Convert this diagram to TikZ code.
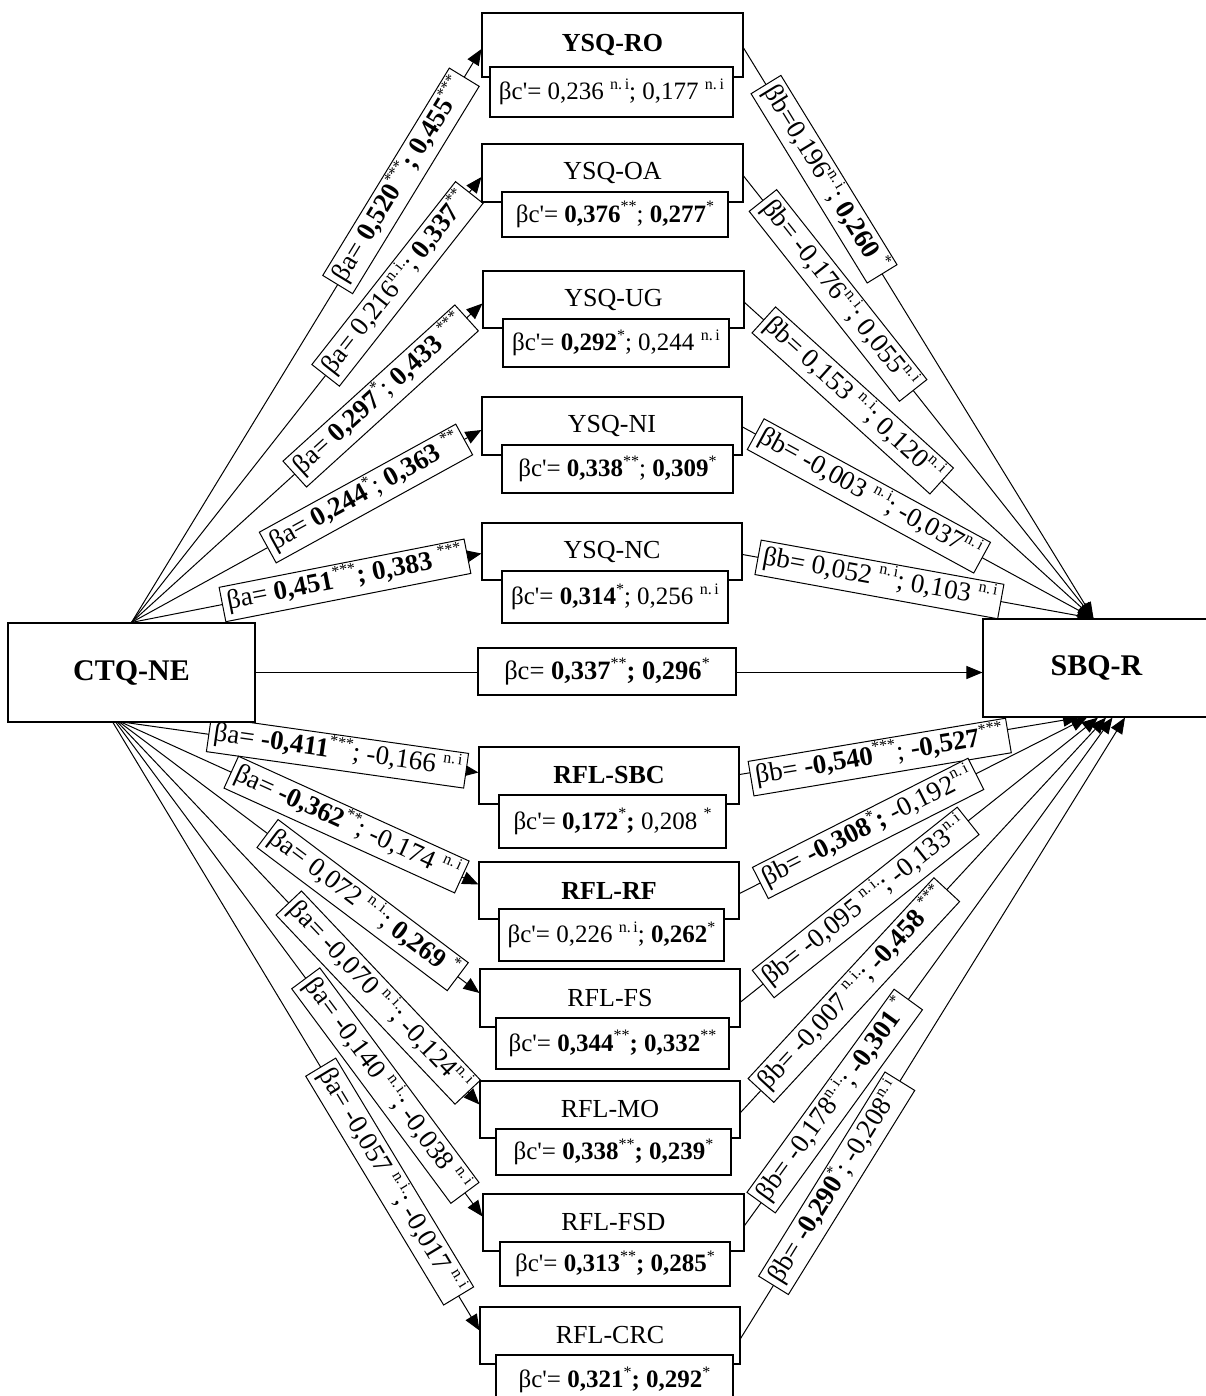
\documentclass[tikz,border=0pt]{standalone}
\usepackage{fontspec}
\setmainfont{Liberation Serif}
\usetikzlibrary{arrows.meta,backgrounds}
\newcommand{\sg}[1]{\raisebox{0.42em}{\fontsize{16}{16}\selectfont #1}}
\newcommand{\nsi}{\sg{n.\,i}}
\newcommand{\nsii}{\sg{n.\,i.}}
\newcommand{\q}{\textquotesingle}
\begin{document}
\begin{tikzpicture}[x=1pt,y=-1pt,
  box/.style={draw,line width=1.1pt,fill=white,inner sep=0pt,font=\fontsize{25}{30}\selectfont},
  ttl/.style={box,font=\fontsize{26}{30}\selectfont},
  ttlb/.style={box,font=\fontsize{26}{30}\selectfont\bfseries},
  mainbox/.style={box,font=\fontsize{30}{36}\selectfont\bfseries},
  lbl/.style={draw,line width=1pt,fill=white,sloped,inner xsep=5pt,inner ysep=0pt,text height=19pt,text depth=7pt,minimum height=35pt,font=\fontsize{27}{30}\selectfont},
  arr/.style={line width=1pt,-{Triangle[length=16pt,width=13pt]}},
]
\useasboundingbox (0,0) rectangle (1206,1396);

% main nodes
\node[mainbox,minimum width=247pt,minimum height=99pt] (ctq) at (131.5,672.5) {CTQ-NE};
\node[mainbox,minimum width=227pt,minimum height=98pt] (sbq) at (1096.5,668) {SBQ-R};
\node[box,minimum width=258pt,minimum height=47pt,font=\fontsize{26.5}{30}\selectfont] (bc) at (607,671.5) {βc= \textbf{0,337}\sg{**}\textbf{; 0,296}\sg{*}};

% upper mediators
\node[ttlb,minimum width=261pt,minimum height=64pt] (ro) at (612.5,45) {YSQ-RO};
\node[box,minimum width=243pt,minimum height=50pt] (roc) at (611.5,92) {βc\q= 0,236 \nsi; 0,177 \nsi};
\node[ttl,minimum width=261pt,minimum height=58pt] (oa) at (612.5,173) {YSQ-OA};
\node[box,minimum width=226pt,minimum height=45pt] (oac) at (615,214.5) {βc\q= \textbf{0,376}\sg{**}; \textbf{0,277}\sg{*}};
\node[ttl,minimum width=261pt,minimum height=57pt] (ug) at (613.5,299.5) {YSQ-UG};
\node[box,minimum width=226pt,minimum height=48pt] (ugc) at (616,343) {βc\q= \textbf{0,292}\sg{*}; 0,244 \nsi};
\node[ttl,minimum width=260pt,minimum height=58pt] (ni) at (612,426) {YSQ-NI};
\node[box,minimum width=231pt,minimum height=48pt] (nic) at (617.5,469) {βc\q= \textbf{0,338}\sg{**}; \textbf{0,309}\sg{*}};
\node[ttl,minimum width=260pt,minimum height=57pt] (nc) at (612,551.5) {YSQ-NC};
\node[box,minimum width=226pt,minimum height=52pt] (ncc) at (615,597) {βc\q= \textbf{0,314}\sg{*}; 0,256 \nsi};

% lower mediators
\node[ttlb,minimum width=260pt,minimum height=57pt] (sbc) at (609,775.5) {RFL-SBC};
\node[box,minimum width=227pt,minimum height=53pt] (sbcc) at (612.5,821.5) {βc\q= \textbf{0,172}\sg{*}\textbf{;} 0,208 \sg{*}};
\node[ttlb,minimum width=260pt,minimum height=57pt] (rf) at (609,890.5) {RFL-RF};
\node[box,minimum width=225pt,minimum height=52pt] (rfc) at (611.5,935) {βc\q= 0,226 \nsi; \textbf{0,262}\sg{*}};
\node[ttl,minimum width=260pt,minimum height=58pt] (fs) at (610,998) {RFL-FS};
\node[box,minimum width=233pt,minimum height=51pt] (fsc) at (612.5,1043.5) {βc\q= \textbf{0,344}\sg{**}\textbf{; 0,332}\sg{**}};
\node[ttl,minimum width=260pt,minimum height=57pt] (mo) at (610,1109.5) {RFL-MO};
\node[box,minimum width=235pt,minimum height=46pt] (moc) at (613.5,1152) {βc\q= \textbf{0,338}\sg{**}\textbf{; 0,239}\sg{*}};
\node[ttl,minimum width=261pt,minimum height=57pt] (fsd) at (613.5,1222.5) {RFL-FSD};
\node[box,minimum width=230pt,minimum height=44pt] (fsdc) at (615,1264) {βc\q= \textbf{0,313}\sg{**}\textbf{; 0,285}\sg{*}};
\node[ttl,minimum width=260pt,minimum height=57pt] (crc) at (610,1335.5) {RFL-CRC};
\node[box,minimum width=237pt,minimum height=50pt] (crcc) at (614.5,1380) {βc\q= \textbf{0,321}\sg{*}\textbf{; 0,292}\sg{*}};

% end points
\coordinate (uro) at ([yshift=-4pt]ro.west);
\coordinate (uoa) at ([yshift=-4pt]oa.west);
\coordinate (uug) at ([yshift=-4pt]ug.west);
\coordinate (uni) at ([yshift=-4pt]ni.west);
\coordinate (unc) at ([yshift=-2pt]nc.west);
\coordinate (ero) at ([yshift=-3pt]ro.east);
\coordinate (eoa) at ([yshift=-3pt]oa.east);
\coordinate (eug) at ([yshift=-3pt]ug.east);
\coordinate (eni) at ([yshift=-1pt]ni.east);
\coordinate (enc) at ([yshift=-3pt]nc.east);
\coordinate (stop) at ([xshift=-3pt]sbq.north);
\coordinate (lsbc) at ([yshift=3pt]sbc.west);
\coordinate (lrf) at ([yshift=6pt]rf.west);
\coordinate (lfs) at ([yshift=5pt]fs.west);
\coordinate (lmo) at ([yshift=5pt]mo.west);
\coordinate (lfsd) at ([yshift=6pt]fsd.west);
\coordinate (lcrc) at ([yshift=5pt]crc.west);
\coordinate (csbc) at ([xshift=-5.5pt]ctq.south);
\coordinate (crf) at ([xshift=-9.5pt]ctq.south);
\coordinate (cfs) at ([xshift=-11.5pt]ctq.south);
\coordinate (cmo) at ([xshift=-13.5pt]ctq.south);
\coordinate (cfsd) at ([xshift=-15.5pt]ctq.south);
\coordinate (ccrc) at ([xshift=-18.5pt]ctq.south);
\coordinate (rsbc) at ([yshift=1pt]sbc.east);
\coordinate (rrf) at ([yshift=-3pt]rf.east);
\coordinate (rfs) at ([yshift=-4pt]fs.east);
\coordinate (rmo) at ([yshift=-3pt]mo.east);
\coordinate (rfsd) at ([yshift=-3pt]fsd.east);
\coordinate (rcrc) at ([yshift=-3pt]crc.east);
\coordinate (bsbc) at ([xshift=-17.5pt]sbq.south);
\coordinate (brf) at ([xshift=-9.5pt]sbq.south);
\coordinate (bfs) at ([xshift=1.5pt]sbq.south);
\coordinate (bmo) at ([xshift=9.5pt]sbq.south);
\coordinate (bfsd) at ([xshift=16pt]sbq.south);
\coordinate (bcrc) at ([xshift=28.5pt]sbq.south);

\begin{scope}[on background layer]
% lines
\draw[arr] (ctq.north) -- (uro);
\draw[arr] (ctq.north) -- (uoa);
\draw[arr] (ctq.north) -- (uug);
\draw[arr] (ctq.north) -- (uni);
\draw[arr] (ctq.north) -- (unc);
\draw[arr] (ero) -- (stop);
\draw[arr] (eoa) -- (stop);
\draw[arr] (eug) -- (stop);
\draw[arr] (eni) -- (stop);
\draw[arr] (enc) -- (stop);
\draw[arr] (csbc) -- (lsbc);
\draw[arr] (crf) -- (lrf);
\draw[arr] (cfs) -- (lfs);
\draw[arr] (cmo) -- (lmo);
\draw[arr] (cfsd) -- (lfsd);
\draw[arr] (ccrc) -- (lcrc);
\draw[arr] (rsbc) -- (bsbc);
\draw[arr] (rrf) -- (brf);
\draw[arr] (rfs) -- (bfs);
\draw[arr] (rmo) -- (bmo);
\draw[arr] (rfsd) -- (bfsd);
\draw[arr] (rcrc) -- (bcrc);
\draw[arr] (ctq.east) -- (ctq.east -| sbq.west);
% labels
\path (ctq.north) -- node[lbl,pos=.77] {βa= \textbf{0,520}\sg{***}\textbf{; 0,455}\sg{***}} (uro);
\path (ctq.north) -- node[lbl,pos=.76] {βa= 0,216\nsii; \textbf{0,337}\sg{**}} (uoa);
\path (ctq.north) -- node[lbl,pos=.71] {βa= \textbf{0,297}\sg{*}; \textbf{0,433} \sg{***}} (uug);
\path (ctq.north) -- node[lbl,pos=.67] {βa= \textbf{0,244}\sg{*}; \textbf{0,363} \sg{**}} (uni);
\path (ctq.north) -- node[lbl,pos=.61] {βa= \textbf{0,451}\sg{***}\textbf{; 0,383} \sg{***}} (unc);
\path (ero) -- node[lbl,pos=.23] {βb=0,196\nsi; \textbf{0,260} \sg{*}} (stop);
\path (eoa) -- node[lbl,pos=.27] {βb= -0,176\nsi; 0,055\nsi} (stop);
\path (eug) -- node[lbl,pos=.31] {βb= 0,153 \nsi; 0,120\nsi} (stop);
\path (eni) -- node[lbl,pos=.36] {βb= -0,003 \nsi; -0,037\nsi} (stop);
\path (enc) -- node[lbl,pos=.39] {βb= 0,052 \nsi; 0,103 \nsi} (stop);
\path (csbc) -- node[lbl,pos=.60] {βa= \textbf{-0,411}\sg{***}; -0,166 \nsi} (lsbc);
\path (crf) -- node[lbl,pos=.63] {βa= \textbf{-0,362}\sg{**}; -0,174 \nsi} (lrf);
\path (cfs) -- node[lbl,pos=.675] {βa= 0,072 \nsii; \textbf{0,269} \sg{*}} (lfs);
\path (cmo) -- node[lbl,pos=.72] {βa= -0,070 \nsii; -0,124\nsi} (lmo);
\path (cfsd) -- node[lbl,pos=.735] {βa= -0,140 \nsii; -0,038 \nsi} (lfsd);
\path (ccrc) -- node[lbl,pos=.755] {βa= -0,057 \nsii; -0,017 \nsi} (lcrc);
\path (rsbc) -- node[lbl,pos=.41,yshift=-6pt] {βb= \textbf{-0,540}\sg{***}; \textbf{-0,527}\sg{***}} (bsbc);
\path (rrf) -- node[lbl,pos=.37] {βb= \textbf{-0,308}\sg{*}\textbf{;} -0,192\nsi} (brf);
\path (rfs) -- node[lbl,pos=.35] {βb= -0,095 \nsii; -0,133\nsi} (bfs);
\path (rmo) -- node[lbl,pos=.31] {βb= -0,007 \nsii; \textbf{-0,458} \sg{***}} (bmo);
\path (rfsd) -- node[lbl,pos=.245] {βb= -0,178\nsii; \textbf{-0,301} \sg{*}} (bfsd);
\path (rcrc) -- node[lbl,pos=.25] {βb= \textbf{-0,290}\sg{*}; -0,208\nsi} (bcrc);
\end{scope}
\end{tikzpicture}
\end{document}
